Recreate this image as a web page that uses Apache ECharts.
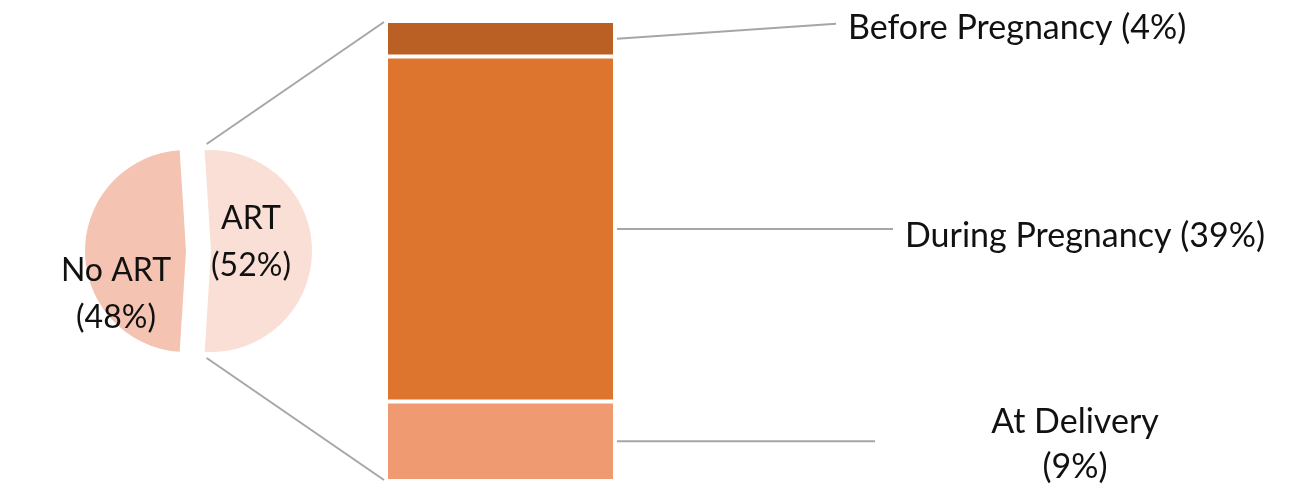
<!DOCTYPE html>
<html>
<head>
<meta charset="utf-8">
<script src="https://cdn.jsdelivr.net/npm/echarts@6/dist/echarts.min.js"></script>
<style>
html,body{margin:0;padding:0;background:#fff;}
#main{width:1295px;height:495px;}
</style>
</head>
<body>
<div id="main"></div>
<script>
// Pie data
const pieNames = ['ART', 'No ART'];
const pieValues = [52, 48];
const pieLabels = ['ART\n(52%)', 'No ART\n(48%)'];
// Bar breakdown of ART (bottom to top)
const barNames = ['At Delivery', 'During Pregnancy', 'Before Pregnancy'];
const barValues = [9, 39, 4];
const barLabels = ['At Delivery\n(9%)', 'During Pregnancy (39%)', 'Before Pregnancy (4%)'];

const FONT = 'Lato';
const FS_PIE = 32;
const FS = 34;
const pieColors = ['#FADFD6', '#F4C3B1'];
const barColors = ['#F09A71', '#DE752F', '#BA6024'];

const chart = echarts.init(document.getElementById('main'), null, {renderer: 'canvas'});
const pieCenter = [186, 251];
const pieR = 101;
const explode = 25;
const artSpan = pieValues[0] / (pieValues[0] + pieValues[1]) * 360;
const startAngle = artSpan / 2;
const pieLabelPos = [[251, 242], [116, 294]];

const total = barValues.reduce((a, b) => a + b, 0);
const BAR_W = 229;

const option = {
  animation: false,
  grid: {left: 386, width: BAR_W, top: 21, bottom: 14},
  xAxis: {type: 'category', data: ['ART'], show: false},
  yAxis: {type: 'value', min: 0, max: total, show: false},
  series: [
    {
      type: 'pie',
      center: pieCenter,
      radius: pieR,
      startAngle: startAngle,
      clockwise: true,
      selectedMode: 'single',
      selectedOffset: explode,
      silent: true,
      label: {show: false},
      labelLine: {show: false},
      itemStyle: {borderWidth: 0},
      data: pieNames.map((n, i) => ({
        name: n, value: pieValues[i], selected: i === 0,
        itemStyle: {color: pieColors[i]}
      }))
    },
    ...barNames.map((n, i) => ({
      type: 'bar',
      name: n,
      stack: 'art',
      barWidth: '100%',
      data: [barValues[i]],
      silent: true,
      itemStyle: {color: barColors[i], borderColor: '#fff', borderWidth: 2}
    }))
  ]
};
chart.setOption(option);

const graphics = [];
// pie slice labels
pieLabels.forEach((t, i) => {
  graphics.push({
    type: 'text', silent: true, z: 100,
    x: pieLabelPos[i][0], y: pieLabelPos[i][1],
    style: {
      text: t, font: FS_PIE + 'px ' + FONT, fill: '#111',
      align: 'center', verticalAlign: 'middle', lineHeight: 47
    }
  });
});

// Leader lines and labels computed from the bar scale
const gray = '#A6A6A6';
const barCx = chart.convertToPixel({gridIndex: 0}, [0, 0])[0];
const barRightX = barCx + BAR_W / 2;
const barLeftX = barCx - BAR_W / 2;
let cum = 0;
const labelEnds = [
  {ex: 875, dyEnd: 0, tx: 1075, align: 'center', ty: 3},
  {ex: 893, dyEnd: 0, tx: 905, align: 'left', ty: 7},
  {ex: 836, dyEnd: -15, tx: 848, align: 'left', ty: 4}
];
barValues.forEach((v, i) => {
  const mid = chart.convertToPixel({gridIndex: 0}, [0, cum + v / 2])[1];
  cum += v;
  const e = labelEnds[i];
  graphics.push({
    type: 'line', silent: true,
    shape: {x1: barRightX + 2, y1: mid, x2: e.ex, y2: mid + e.dyEnd},
    style: {stroke: gray, lineWidth: 2}
  });
  graphics.push({
    type: 'text', silent: true,
    x: e.tx, y: mid + e.dyEnd + e.ty,
    style: {
      text: barLabels[i], font: FS + 'px ' + FONT, fill: '#111',
      align: e.align, verticalAlign: 'middle', lineHeight: 45
    }
  });
});
// connectors from exploded ART slice to bar
const topY = chart.convertToPixel({gridIndex: 0}, [0, total])[1];
const botY = chart.convertToPixel({gridIndex: 0}, [0, 0])[1];
const artCx = pieCenter[0] + explode;
const edgeX = artCx + pieR * Math.cos(startAngle * Math.PI / 180);
graphics.push({type: 'line', silent: true,
  shape: {x1: edgeX + 2, y1: pieCenter[1] - pieR - 6, x2: barLeftX - 2, y2: topY + 1},
  style: {stroke: gray, lineWidth: 2}});
graphics.push({type: 'line', silent: true,
  shape: {x1: edgeX + 2, y1: pieCenter[1] + pieR + 6, x2: barLeftX - 2, y2: botY - 1},
  style: {stroke: gray, lineWidth: 2}});
chart.setOption({graphic: graphics});
</script>
</body>
</html>
